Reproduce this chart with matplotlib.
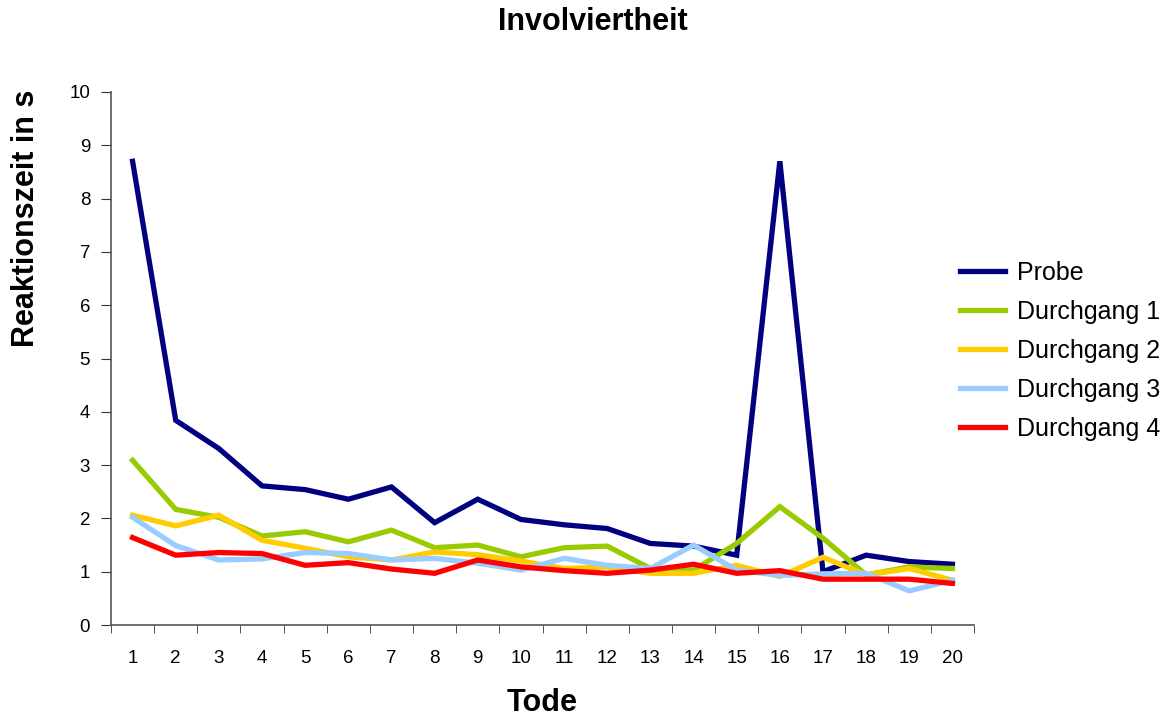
import matplotlib.pyplot as plt

plt.rcParams['font.family'] = ['Liberation Sans', 'DejaVu Sans']

tode = list(range(1, 21))

probe = [8.70, 3.84, 3.31, 2.61, 2.54, 2.36, 2.59, 1.92, 2.36, 1.98,
         1.88, 1.81, 1.53, 1.48, 1.31, 8.70, 1.00, 1.31, 1.19, 1.14]
durchgang_1 = [3.09, 2.17, 2.02, 1.67, 1.75, 1.56, 1.78, 1.45, 1.50, 1.28,
               1.45, 1.48, 1.06, 1.03, 1.53, 2.22, 1.63, 0.94, 1.09, 1.06]
durchgang_2 = [2.06, 1.86, 2.06, 1.59, 1.44, 1.28, 1.22, 1.37, 1.32, 1.20,
               1.06, 1.09, 0.97, 0.97, 1.12, 0.91, 1.27, 0.94, 1.06, 0.84]
durchgang_3 = [2.02, 1.49, 1.22, 1.24, 1.36, 1.34, 1.22, 1.25, 1.16, 1.03,
               1.25, 1.12, 1.06, 1.50, 1.03, 0.93, 0.96, 0.97, 0.64, 0.84]
durchgang_4 = [1.64, 1.31, 1.36, 1.34, 1.12, 1.17, 1.05, 0.97, 1.22, 1.09,
               1.02, 0.97, 1.03, 1.14, 0.97, 1.02, 0.86, 0.86, 0.86, 0.78]

series = [
    ("Probe", probe, "#000080"),
    ("Durchgang 1", durchgang_1, "#99CC00"),
    ("Durchgang 2", durchgang_2, "#FFCC00"),
    ("Durchgang 3", durchgang_3, "#99CCFF"),
    ("Durchgang 4", durchgang_4, "#FF0000"),
]

fig = plt.figure(figsize=(11.72, 7.2), dpi=100)
ax = fig.add_axes([111 / 1172, 1 - 625 / 720, 863 / 1172, 533 / 720])

for name, vals, col in series:
    ax.plot(tode, vals, color=col, lw=3.8, label=name, solid_joinstyle='miter')

ax.set_xlim(0.5, 20.5)
ax.set_ylim(0, 10)
ax.set_yticks(range(0, 11))
ax.set_xticks(tode)
ax.set_xticks([i + 0.5 for i in range(0, 21)], minor=True)
ax.tick_params(axis='x', which='major', length=0, labelsize=13.5, pad=18)
ax.tick_params(axis='x', which='minor', length=6, direction='out', color='#333333')
ax.tick_params(axis='y', length=7, direction='out', labelsize=13.5, pad=8, color='#333333')

for s in ('top', 'right'):
    ax.spines[s].set_visible(False)
for s in ('left', 'bottom'):
    ax.spines[s].set_color('#555555')
    ax.spines[s].set_linewidth(1.2)

ax.set_xlabel("Tode", fontsize=22, fontweight='bold', labelpad=15)
ax.set_ylabel("Reaktionszeit in s", fontsize=22, fontweight='bold', va='center')
# axis title sits high on the left, Excel-style
ax.yaxis.set_label_coords((26 - 111) / 863, (625 - 218) / 533)
fig.text(0.506, 1 - 22 / 720, "Involviertheit", ha='center', va='center',
         fontsize=22, fontweight='bold')

ax.legend(loc='center left', bbox_to_anchor=(937 / 1172, 1 - 351 / 720),
          bbox_transform=fig.transFigure, frameon=False, fontsize=18,
          handlelength=1.8, handletextpad=0.5, labelspacing=0.6)

fig.savefig("out.png", dpi=100)
